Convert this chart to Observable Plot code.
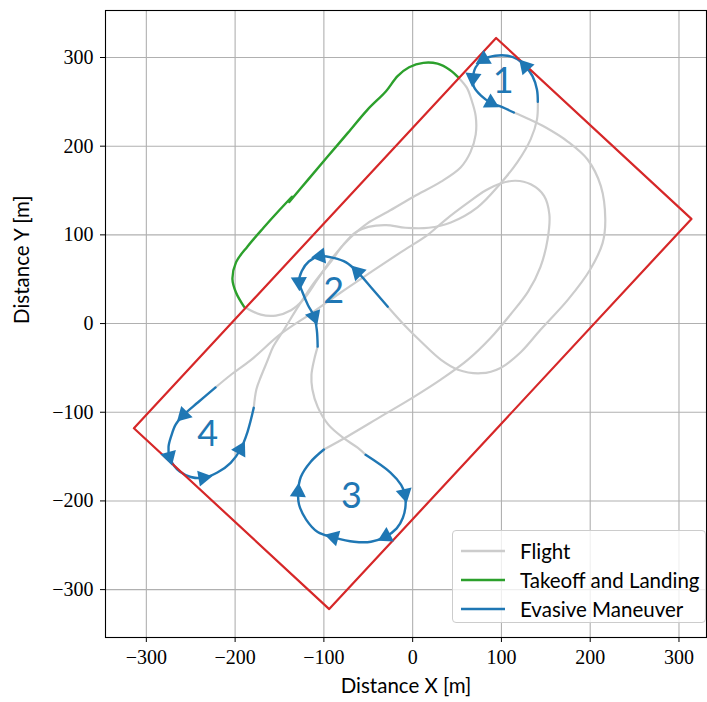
<!DOCTYPE html>
<html>
<head>
<meta charset="utf-8">
<script src="https://cdn.jsdelivr.net/npm/d3@7"></script>
<script src="https://cdn.jsdelivr.net/npm/@observablehq/plot@0.6"></script>
<style>
  body { margin: 0; background: #fff; }
  #chart { position: relative; width: 707px; height: 702px; }
  .legend {
    position: absolute; left: 452px; top: 530px; width: 254px; height: 93px;
    box-sizing: border-box; border: 1px solid #cccccc; border-radius: 4px;
    background: rgba(255,255,255,0.8);
    font-family: Lato, "Noto Sans", sans-serif; font-size: 20.5px; color: #000;
  }
  .legend .row { position: absolute; left: 0; height: 24px; width: 100%; }
  .legend svg { position: absolute; left: 7px; top: 0; }
  .legend span { position: absolute; left: 67px; top: 0; line-height: 24px; white-space: nowrap; }
</style>
</head>
<body>
<div id="chart"></div>
<script>
// Axis extent and tick values (metres)
const xDomain = [-346, 331];
const yDomain = [-354, 353];
const ticks = [-300, -200, -100, 0, 100, 200, 300];

// Colours
const grayColor = "#cccccc";
const greenColor = "#2ca02c";
const blueColor = "#1f77b4";
const redColor = "#d62728";

// Takeoff climb-out and landing approach (green)
const takeoff = [[-139,137],[-118,162],[-96,188],[-73,215],[-51,241],[-30,262],[-17,279],[-4,289],[12,294],[28,293],[42,286],[52,277]];
const landing = [[-190,19],[-199,35],[-203,50],[-199,69],[-186,87],[-168,108],[-150,128],[-136,143]];

// Regular flight legs (gray)
const flightLeg1 = [[52,277],[61,266],[66,253],[71,234],[71,213],[65,193],[54,176],[32,160],[1,143],[-28,126],[-51,113],[-70,97],[-89,76],[-107,50],[-123,27],[-137,15],[-154,9],[-171,10],[-190,19]];
const flightLeg2 = [[114,238],[130,231],[150,221],[175,205],[197,185],[212,155],[217,117],[214,91],[200,61],[175,27],[144,-7],[122,-32],[99,-50],[77,-56],[51,-52],[32,-41],[9,-20],[-10,-1],[-28,19]];
const flightLeg3 = [[-107,-26],[-111,-41],[-114,-58],[-113,-74],[-107,-94],[-95,-114],[-78,-129],[-62,-140],[-53,-148]];
const flightLeg4 = [[-100,-142],[-73,-127],[-36,-105],[1,-83],[32,-63],[62,-41],[88,-16],[110,10],[130,36],[144,64],[152,95],[154,123],[148,144],[133,157],[116,161],[99,158],[82,150],[62,136],[37,117],[17,100],[-14,80],[-47,58],[-81,35],[-115,11],[-149,-12],[-182,-41],[-205,-58],[-222,-72]];
const flightLeg5 = [[-179,-95],[-176,-74],[-171,-60],[-164,-43],[-157,-26],[-145,-7],[-129,19],[-111,46],[-92,70],[-78,89],[-64,103],[-50,109],[-30,111],[-8,108],[18,108],[43,114],[73,131],[99,158],[118,182],[133,208],[140,230],[141,250]];

// Evasive manoeuvres (blue)
const maneuver1 = [[141,250],[140,264],[135,279],[127,290],[118,298],[107,302],[93,302],[80,298],[71,289],[68,277],[69,267],[77,257],[88,249],[101,244],[114,238]];
const maneuver2 = [[-28,19],[-47,41],[-62,58],[-75,69],[-89,74],[-104,76],[-117,70],[-125,59],[-128,47],[-124,35],[-118,21],[-111,8],[-108,-7],[-107,-26]];
const maneuver3 = [[-53,-148],[-25,-168],[-13,-182],[-9,-192],[-8,-205],[-11,-219],[-18,-231],[-30,-240],[-47,-246],[-66,-246],[-89,-241],[-107,-235],[-120,-221],[-128,-204],[-129,-190],[-126,-173],[-115,-156],[-100,-142]];
const maneuver4 = [[-222,-72],[-242,-89],[-258,-103],[-267,-114],[-272,-127],[-275,-139],[-274,-150],[-269,-160],[-262,-167],[-250,-173],[-236,-174],[-220,-168],[-205,-157],[-194,-142],[-186,-122],[-179,-95]];

// Points along each manoeuvre that carry a direction arrow
const arrows1 = [3, 7, 9, 12];
const arrows2 = [2, 5, 8, 11];
const arrows3 = [3, 7, 10, 14];
const arrows4 = [2, 6, 10, 13];

// Manoeuvre numbers
const labelText = ["1", "2", "3", "4"];
const labelX = [102, -89, -69, -231];
const labelY = [273, 36, -195, -125];

// Operating area boundary (red)
const boundary = [[94,322],[314,118],[-94,-322],[-314,-118],[94,322]];

// Legend entries
const legendLabels = ["Flight", "Takeoff and Landing", "Evasive Maneuver"];
const legendColors = [grayColor, greenColor, blueColor];

const flightLegs = [flightLeg1, flightLeg2, flightLeg3, flightLeg4, flightLeg5];
const greenLegs = [landing, takeoff];
const maneuvers = [maneuver1, maneuver2, maneuver3, maneuver4];
const arrowSets = [arrows1, arrows2, arrows3, arrows4];

const toRows = (pts, id) => pts.map(([x, y]) => ({x, y, id}));
const grayRows = flightLegs.flatMap((p, i) => toRows(p, i));
const greenRows = greenLegs.flatMap((p, i) => toRows(p, i));
const blueRows = maneuvers.flatMap((p, i) => toRows(p, i));
const boundaryRows = toRows(boundary, 0);
const labels = labelText.map((t, i) => ({t, x: labelX[i], y: labelY[i]}));

// Arrow heads: direction taken from neighbouring points (degrees clockwise from up)
const arrowRows = maneuvers.flatMap((p, m) => arrowSets[m].map(i => {
  const a = p[Math.max(0, i - 1)], b = p[Math.min(p.length - 1, i + 1)];
  const angle = Math.atan2(b[0] - a[0], b[1] - a[1]) * 180 / Math.PI;
  return {x: p[i][0], y: p[i][1], angle};
}));

const fmt = d => d < 0 ? "\u2212" + Math.abs(d) : String(d);
const serif = "'Liberation Serif', 'DejaVu Serif', serif";
const sans = "Lato, 'Noto Sans', sans-serif";

const chart = Plot.plot({
  width: 707,
  height: 702,
  marginLeft: 105,
  marginRight: 1,
  marginTop: 10,
  marginBottom: 65,
  style: {background: "#fff", color: "#000"},
  x: {domain: xDomain},
  y: {domain: yDomain},
  marks: [
    Plot.gridX(ticks, {stroke: "#b0b0b0", strokeOpacity: 1, strokeWidth: 1.1}),
    Plot.gridY(ticks, {stroke: "#b0b0b0", strokeOpacity: 1, strokeWidth: 1.1}),
    Plot.line(grayRows, {x: "x", y: "y", z: "id", stroke: grayColor, strokeWidth: 2.2, curve: "catmull-rom"}),
    Plot.line(greenRows, {x: "x", y: "y", z: "id", stroke: greenColor, strokeWidth: 2.4, curve: "catmull-rom"}),
    Plot.line(blueRows, {x: "x", y: "y", z: "id", stroke: blueColor, strokeWidth: 2.4, curve: "catmull-rom"}),
    Plot.line(boundaryRows, {x: "x", y: "y", stroke: redColor, strokeWidth: 2.2}),
    Plot.dot(arrowRows, {x: "x", y: "y", rotate: "angle", symbol: "triangle", r: 6, fill: blueColor, stroke: "none"}),
    Plot.text(labels, {x: "x", y: "y", text: "t", fill: blueColor, fontSize: 36, fontFamily: sans}),
    Plot.frame({stroke: "#000", strokeWidth: 1.1}),
    Plot.axisX(ticks, {tickSize: 5, tickPadding: 7, fontSize: 20, fontFamily: serif, tickFormat: fmt, label: null}),
    Plot.axisY(ticks, {tickSize: 5, tickPadding: 7, fontSize: 20, fontFamily: serif, tickFormat: fmt, label: null}),
    Plot.text(["Distance X [m]"], {frameAnchor: "bottom", dy: 55, fontSize: 20.5, fontFamily: sans}),
    Plot.text(["Distance Y [m]"], {frameAnchor: "left", dx: -83, rotate: -90, fontSize: 20.5, fontFamily: sans})
  ]
});

const root = document.getElementById("chart");
root.appendChild(chart);

// Legend box drawn over the lower-right of the plot area
const legend = document.createElement("div");
legend.className = "legend";
legendLabels.forEach((label, i) => {
  const row = document.createElement("div");
  row.className = "row";
  row.style.top = (8 + i * 29) + "px";
  row.innerHTML = `<svg width="48" height="24"><line x1="1" x2="45" y1="12" y2="12" stroke="${legendColors[i]}" stroke-width="2.6"/></svg><span>${label}</span>`;
  legend.appendChild(row);
});
root.appendChild(legend);
</script>
</body>
</html>
